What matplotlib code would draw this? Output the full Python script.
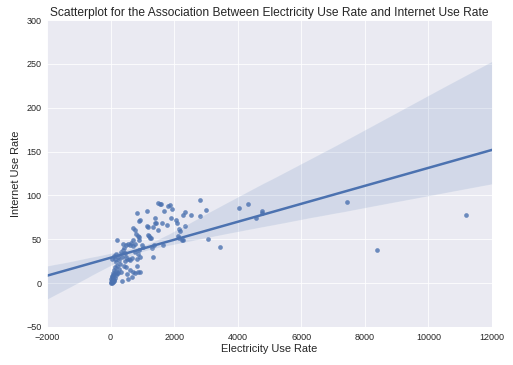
import matplotlib
matplotlib.use("Agg")
import matplotlib.pyplot as plt
import numpy as np
import pandas as pd
import seaborn as sns

electricity = [
    20, 30, 40, 25, 50, 60, 35, 70, 80, 45, 90, 100, 120, 150, 170, 200, 180, 210, 240, 260,
    300, 350, 330, 280, 220, 140, 60, 100, 180,
    15, 30, 55, 75, 95, 110, 130, 160,
    320, 380, 420, 450, 500, 550, 600, 650, 700, 770, 480, 520, 580, 620, 670, 830, 870, 900, 925,
    211, 714, 903, 760, 400, 350, 450, 557, 664, 714, 871, 925, 520, 600, 820, 760, 410, 490,
    714, 767, 789, 893, 871, 903, 840, 925, 978, 1029, 1135, 1167, 1155, 1186, 1239, 1271, 1198,
    1293, 1343, 1343, 1375, 1397, 1397, 1428, 1501, 1501, 1554, 1585, 1607, 1658, 1689, 1784,
    1815, 1878, 1900, 1941, 2057, 2079, 2120, 2142, 2161, 2183, 2236, 2268, 2268, 2350, 2350,
    2539, 2822, 2822, 3011, 3073, 3451, 4049, 4313, 4574, 4772, 4772, 7446, 8390, 11180,
]
internet = [
    1, 2, 3, 5, 4, 7, 8, 9, 6, 0.5, 12, 15, 10, 18, 14, 20, 24, 12, 11, 16,
    22, 2, 13, 26, 30, 28, 27, 31, 33,
    0.5, 1.5, 2.5, 1, 3, 4, 6, 9,
    35, 38, 40, 34, 43, 45, 44, 46, 42, 45, 30, 28, 27, 26, 29, 28, 33, 38, 30,
    49, 49, 49, 36, 45, 30, 25, 5, 7, 13, 13, 13, 10, 15, 20, 12, 20, 18,
    63, 61, 56, 53, 54, 71, 80, 72, 43, 41, 65, 64, 82, 55, 51, 51, 54,
    40, 30, 64, 43, 69, 74, 68, 61, 91, 90, 90, 69, 44, 82, 66,
    88, 89, 74, 84, 72, 69, 54, 62, 52, 60, 49, 49, 78, 81, 65,
    78, 95, 76, 83, 50, 41, 86, 90, 74, 82, 80, 93, 38, 78,
]

sns.set_style("darkgrid")
plt.rcParams['font.family'] = ['Liberation Sans', 'DejaVu Sans']

df = pd.DataFrame({"Electricity Use Rate": electricity, "Internet Use Rate": internet})

fig = plt.figure(figsize=(513 / 72, 365 / 72), dpi=72)
ax = fig.add_axes([47 / 513, 1 - 327 / 365, 445 / 513, 307 / 365])
ax.set_xlim(-2000, 12000)
ax.set_ylim(-50, 300)
sns.regplot(x="Electricity Use Rate", y="Internet Use Rate", data=df, ax=ax,
            truncate=False, seed=0, color="#4C72B0",
            scatter_kws={"s": 22, "alpha": 0.8, "linewidths": 0},
            line_kws={"linewidth": 2.5})
ax.set_xlim(-2000, 12000)
ax.set_ylim(-50, 300)
ax.tick_params(labelsize=9, pad=2)
ax.set_xlabel("Electricity Use Rate", fontsize=11, labelpad=3)
ax.set_ylabel("Internet Use Rate", fontsize=11, labelpad=5)
ax.set_title("Scatterplot for the Association Between Electricity Use Rate and Internet Use Rate",
             fontsize=12, pad=4)
fig.savefig("out.png", dpi=72)
